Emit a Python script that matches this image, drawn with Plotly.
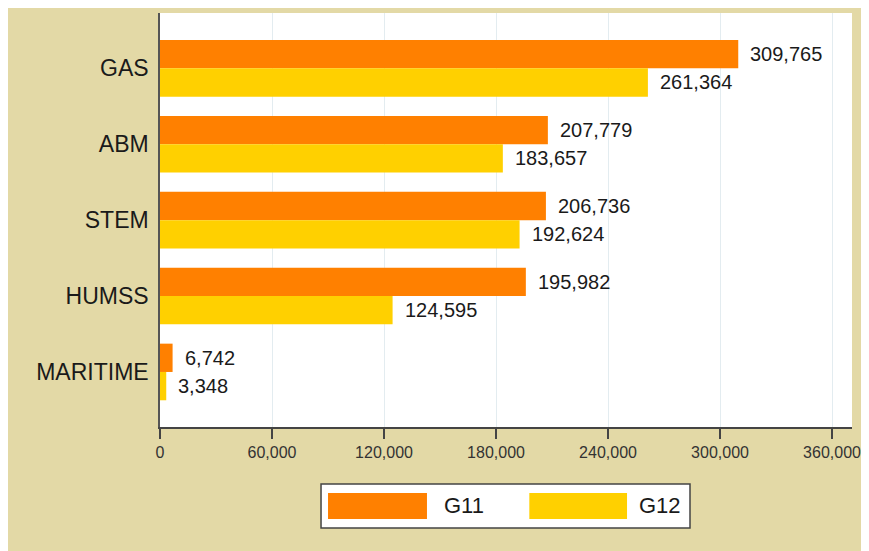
import plotly.graph_objects as go

BEIGE = "#E3D9A6"
ORANGE = "#FF8000"
YELLOW = "#FFD000"
TEXT = "#1a1a1a"

categories = ["GAS", "ABM", "STEM", "HUMSS", "MARITIME"]
g11 = [309765, 207779, 206736, 195982, 6742]
g12 = [261364, 183657, 192624, 124595, 3348]
x_ticks = [0, 60000, 120000, 180000, 240000, 300000, 360000]

series = [("G11", g11, ORANGE, 14), ("G12", g12, YELLOW, -14)]

fig = go.Figure()
for name, vals, color, _ in series:
    fig.add_trace(go.Bar(
        y=categories, x=vals, name=name, orientation="h",
        marker=dict(color=color, line=dict(width=0)),
        hovertemplate="%{y}<br>%{x:,}<extra>" + name + "</extra>",
    ))

# value labels just past the end of each bar
annotations = []
for name, vals, color, dy in series:
    for cat, v in zip(categories, vals):
        annotations.append(dict(
            x=v, y=cat, xref="x", yref="y", text=f"{v:,}", showarrow=False,
            xanchor="left", yanchor="middle", xshift=10, yshift=dy,
            font=dict(size=20, color=TEXT),
        ))

# hand-drawn legend (wide swatches like the original)
shapes = [
    dict(type="rect", xref="paper", yref="paper", x0=0.2327, x1=0.7659,
         y0=-0.1377, y1=-0.2440, fillcolor="white",
         line=dict(color="#444444", width=1.5)),
]
legend_items = [("G11", ORANGE, 0.2428, 0.3858, 0.4075),
                ("G12", YELLOW, 0.5337, 0.6749, 0.6889)]
for name, color, sx0, sx1, tx in legend_items:
    shapes.append(dict(type="rect", xref="paper", yref="paper",
                       x0=sx0, x1=sx1, y0=-0.1594, y1=-0.2222,
                       fillcolor=color, line=dict(width=0)))
    annotations.append(dict(x=tx, y=-0.1908, xref="paper", yref="paper",
                            text=name, showarrow=False, xanchor="left",
                            yanchor="middle",
                            font=dict(size=22, color=TEXT)))

fig.update_layout(
    width=869, height=551,
    paper_bgcolor=BEIGE, plot_bgcolor="white",
    font=dict(family="Liberation Sans, Arial, sans-serif", color=TEXT),
    margin=dict(l=152, r=25, t=5, b=132),
    barmode="group", bargap=0.254, bargroupgap=0,
    showlegend=False,
    shapes=shapes,
    annotations=annotations,
    xaxis=dict(
        range=[0, 370700], tickvals=x_ticks, tickformat=",",
        showgrid=True, gridcolor="#E3ECF0", gridwidth=1, zeroline=False,
        showline=True, linecolor="#444444", linewidth=1.5,
        ticks="outside", ticklen=10, tickcolor="#444444", tickwidth=1.5,
        tickfont=dict(size=16, color="#333333"), ticklabelstandoff=0,
        fixedrange=True,
    ),
    yaxis=dict(
        type="category", categoryorder="array", categoryarray=categories,
        range=[4.725, -0.729], showgrid=False, zeroline=False,
        showline=True, linecolor="#555555", linewidth=1.5,
        ticks="", tickfont=dict(size=23, color=TEXT), ticklabelstandoff=5,
        fixedrange=True,
    ),
)

# page keeps its default margin; hide scrollbars so the figure just clips
fig.write_html("out.html", post_script="document.body.style.overflow='hidden';")
